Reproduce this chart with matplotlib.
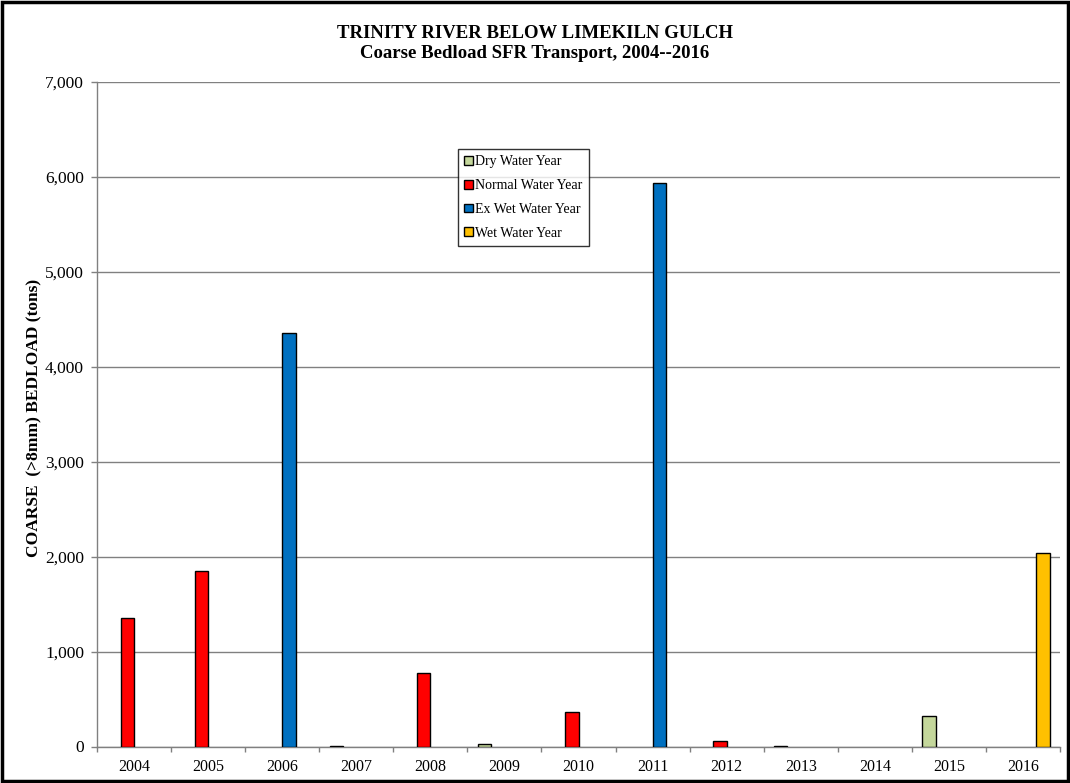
import numpy as np
import matplotlib
matplotlib.use("Agg")
import matplotlib.pyplot as plt
from matplotlib.patches import Rectangle
from matplotlib.ticker import FuncFormatter, FixedLocator

years = ["2004", "2005", "2006", "2007", "2008", "2009", "2010",
         "2011", "2012", "2013", "2014", "2015", "2016"]
nan = np.nan
dry = [nan, nan, nan, 10, nan, 30, nan, nan, nan, 5, nan, 320, nan]
normal = [1350, 1850, nan, nan, 770, nan, 360, nan, 60, nan, nan, nan, nan]
exwet = [nan, nan, 4350, nan, nan, nan, nan, 5930, nan, nan, nan, nan, nan]
wet = [nan, nan, nan, nan, nan, nan, nan, nan, nan, nan, nan, nan, 2040]

series = [("Dry Water Year", dry, "#C4D79B"),
          ("Normal Water Year", normal, "#FF0000"),
          ("Ex Wet Water Year", exwet, "#0070C0"),
          ("Wet Water Year", wet, "#FFC000")]

plt.rcParams['font.family'] = ['Liberation Serif', 'DejaVu Serif']

fig = plt.figure(figsize=(10.70, 7.83), dpi=100)
ax = fig.add_axes([97/1070, 1-746.5/783, (1060-97)/1070, (746.5-81.5)/783])

x = np.arange(len(years))
w = 0.18
handles = []
for i, (name, vals, col) in enumerate(series):
    b = ax.bar(x + (i - 1.5) * w, vals, width=w, color=col, edgecolor="black",
               linewidth=1.0, label=name, zorder=3)
    handles.append(b)

ax.set_xlim(-0.5, len(years) - 0.5)
ax.set_ylim(0, 7000)
ax.set_yticks(np.arange(0, 7001, 1000))
ax.yaxis.set_major_formatter(FuncFormatter(lambda v, p: f"{int(v):,}"))
ax.set_xticks(x)
ax.set_xticklabels(years)
ax.xaxis.set_minor_locator(FixedLocator(np.arange(-0.5, len(years), 1.0)))
ax.tick_params(axis="x", which="major", length=0, pad=9, labelsize=11.5)
ax.tick_params(axis="x", which="minor", length=3.6, color="#808080", width=1)
ax.tick_params(axis="y", length=4.3, color="#808080", width=1, pad=5, labelsize=12.5)

ax.grid(axis="y", color="#808080", linewidth=1.0, zorder=0)
ax.set_axisbelow(True)
for s in ["top", "right"]:
    ax.spines[s].set_visible(False)
for s in ["left", "bottom"]:
    ax.spines[s].set_color("#808080")
    ax.spines[s].set_linewidth(1.0)

fig.text(0.5, 1-33/783, "TRINITY RIVER BELOW LIMEKILN GULCH", ha="center", va="center",
         fontsize=13.5, fontweight="bold")
fig.text(0.5, 1-53/783, "Coarse Bedload SFR Transport, 2004--2016", ha="center", va="center",
         fontsize=13.5, fontweight="bold")
fig.text(34/1070, 1-418/783, "COARSE  (>8mm) BEDLOAD (tons)", rotation=90,
         ha="center", va="center", fontsize=12.5, fontweight="bold")

leg = fig.legend(handles=handles, loc="upper left",
                 bbox_to_anchor=(458/1070, 1-149/783), frameon=True, fancybox=False,
                 edgecolor="black", fontsize=10, handlelength=0.6, handleheight=0.6,
                 handletextpad=0.2, labelspacing=0.78, borderpad=0.45, borderaxespad=0)
leg.get_frame().set_linewidth(1.0)

fig.patches.append(Rectangle((0.002, 0.002), 0.996, 0.996, transform=fig.transFigure,
                             fill=False, edgecolor="black", linewidth=2.5))

fig.savefig("out.png", dpi=100)
